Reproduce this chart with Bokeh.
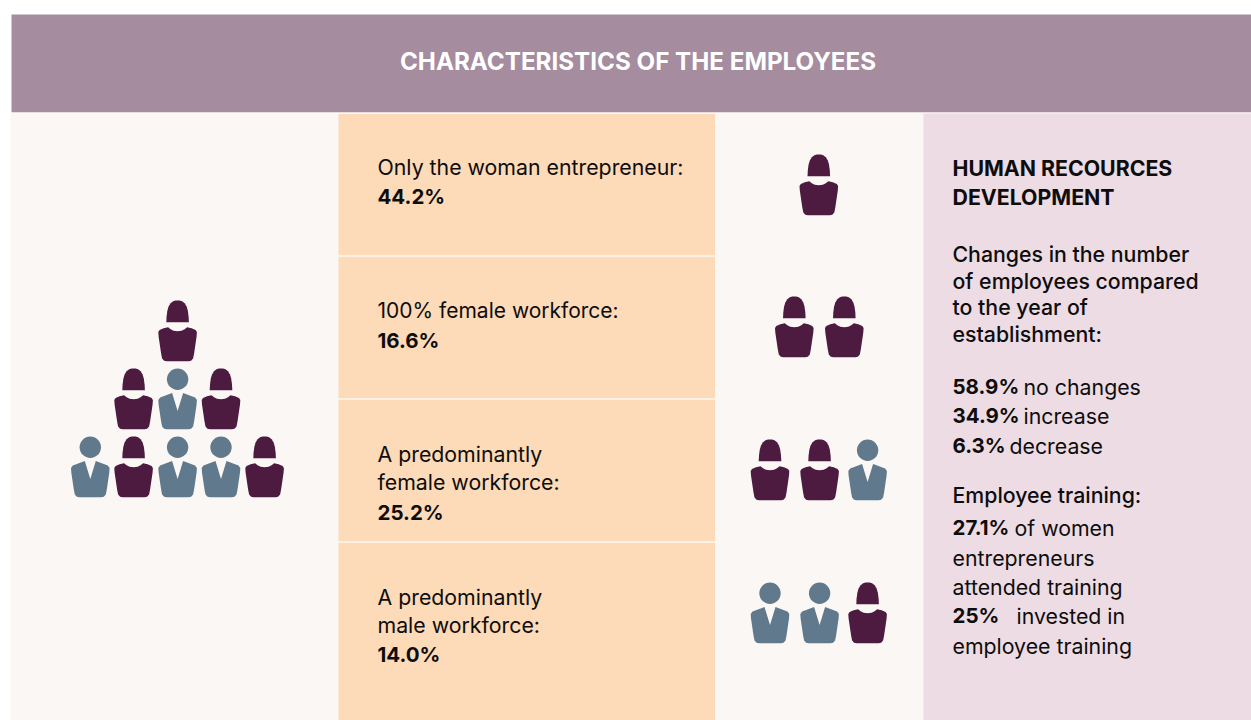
from bokeh.plotting import figure
from bokeh.models import Range1d
from bokeh.core.properties import value
from bokeh.embed import file_html
from bokeh.resources import INLINE

TITLE = "CHARACTERISTICS OF THE EMPLOYEES"
SHARE_LABELS = [
    ["Only the woman entrepreneur:"],
    ["100% female workforce:"],
    ["A predominantly", "female workforce:"],
    ["A predominantly", "male workforce:"],
]
SHARE_VALUES = [44.2, 16.6, 25.2, 14.0]
ICON_ROWS = [["w"], ["w", "w"], ["w", "w", "m"], ["m", "m", "w"]]
PYRAMID = [["w"], ["w", "m", "w"], ["m", "w", "m", "m", "w"]]
HR_TITLE = ["HUMAN RECOURCES", "DEVELOPMENT"]
HR_INTRO = ["Changes in the number", "of employees compared", "to the year of", "establishment:"]
HR_CHANGES = [("58.9%", "no changes"), ("34.9%", "increase"), ("6.3%", "decrease")]
HR_TRAIN_HEAD = "Employee training:"
HR_TRAIN = [("27.1%", "of women"), ("", "entrepreneurs"), ("", "attended training"),
            ("25%", "invested in"), ("", "employee training")]

PURPLE, SLATE = "#4d1a40", "#60798c"
HEADER, BG, PEACH, PINK = "#a58c9f", "#fbf7f4", "#fddab8", "#eddce4"
INK = "#0d0d0d"
FONT = value("Inter")
NUM = "20.5px"

p = figure(width=1251, height=720, x_range=Range1d(0, 1251), y_range=Range1d(720, 0),
           output_backend="svg", toolbar_location=None, min_border=0,
           outline_line_color=None, background_fill_color="white", border_fill_color="white")
p.axis.visible = False
p.grid.visible = False


def band(x0, x1, y0, y1, color):
    p.quad(left=[x0], right=[x1], top=[y0], bottom=[y1], fill_color=color, line_color=None)


def txt(x, y, s, bold=False, size="21.3px", color=INK, align="left", font=FONT):
    p.text(x=[x], y=[y], text=[s], text_font=font, text_font_size=size,
           text_font_style="bold" if bold else "normal", text_color=color,
           text_baseline="alphabetic", text_align=align)


WOMAN_HEAD = [(-11.3, 21.7), (-11, 16), (-10.2, 10), (-9, 6), (-7, 2.8), (-4.5, 0.8), (-2, 0.1), (0, 0),
              (2, 0.1), (4.5, 0.8), (7, 2.8), (9, 6), (10.2, 10), (11, 16), (11.3, 21.7)]
WOMAN_BODY = [(-9.5, 26.7), (-7, 28.8), (-4, 30.2), (0, 30.7), (4, 30.2), (7, 28.8), (9.5, 26.7),
              (14, 27.8), (18, 29.5), (19.3, 31.5), (19, 36), (16.5, 53), (15.5, 58), (13.5, 60.2), (11, 60.7),
              (-11, 60.7), (-13.5, 60.2), (-15.5, 58), (-16.5, 53), (-19, 36), (-19.3, 31.5),
              (-18, 29.5), (-14, 27.8)]
MAN_BODY = [(-5.5, 24.5), (0, 42.5), (5.5, 24.5), (17.5, 29), (19.3, 31.5), (19, 36), (16.5, 53), (15.5, 58),
            (13.5, 60.2), (11, 60.7), (-11, 60.7), (-13.5, 60.2), (-15.5, 58), (-16.5, 53), (-19, 36),
            (-19.3, 31.5), (-17.5, 29)]


def icon(kind, cx, top):
    parts = [WOMAN_HEAD, WOMAN_BODY] if kind == "w" else [MAN_BODY]
    color = PURPLE if kind == "w" else SLATE
    for part in parts:
        p.patch([cx + a for a, _ in part], [top + b for _, b in part], fill_color=color, line_color=None)
    if kind == "m":
        p.circle(x=[cx], y=[top + 10.7], radius=10.7, fill_color=color, line_color=None)


# Panels
band(11, 1251, 14, 112, HEADER)
band(10, 1251, 112, 720, BG)
band(923, 1251, 113, 720, PINK)
peach_edges = [(113.5, 254.7), (256.3, 397.7), (399.3, 540.7), (542.3, 720)]
for y0, y1 in peach_edges:
    band(338, 714.5, y0, y1, PEACH)

txt(637.5, 61, TITLE, bold=True, size="24.2px", color="white", align="center")

# Share rows
baselines = [[166, 196], [310, 340], [453, 481, 512], [596, 624, 654]]
for i, (labels, val, ys) in enumerate(zip(SHARE_LABELS, SHARE_VALUES, baselines)):
    for s, y in zip(labels, ys):
        txt(377, y, s, size="21px" if i == 1 else "21.3px")
    txt(377, ys[-1], f"{val:.1f}%", bold=True, size=NUM)

# Icons
pyr_x = [[177.1], [133.1, 177.1, 220.5], [89.8, 133.1, 177.1, 220.5, 264.1]]
for kinds, xs, top in zip(PYRAMID, pyr_x, [300, 368, 436]):
    for k, x in zip(kinds, xs):
        icon(k, x, top)
row_x = [[818.3], [793.8, 843.8], [769.5, 819.1, 867.1], [769.5, 819.1, 867.1]]
for kinds, xs, top in zip(ICON_ROWS, row_x, [154, 296, 439, 582]):
    for k, x in zip(kinds, xs):
        icon(k, x, top)

# Right column
MEDIUM = value("Inter Medium")
for s, y in zip(HR_TITLE, [167, 196]):
    txt(952, y, s, bold=True)
for s, y in zip(HR_INTRO, [253, 280, 306, 333]):
    txt(952, y, s, font=MEDIUM)
for (a, b), y, off in zip(HR_CHANGES, [386, 415, 445], [71, 71, 57]):
    txt(952, y, a, bold=True, size=NUM)
    txt(952 + off, y, b)
txt(952, 494, HR_TRAIN_HEAD, font=MEDIUM)
for (a, b), y, off in zip(HR_TRAIN, [527, 557, 586, 615, 645], [62, 0, 0, 64, 0]):
    if a:
        txt(952, y, a, bold=True, size=NUM)
    txt(952 + off, y, b)

open("out.html", "w").write(file_html(p, INLINE))
